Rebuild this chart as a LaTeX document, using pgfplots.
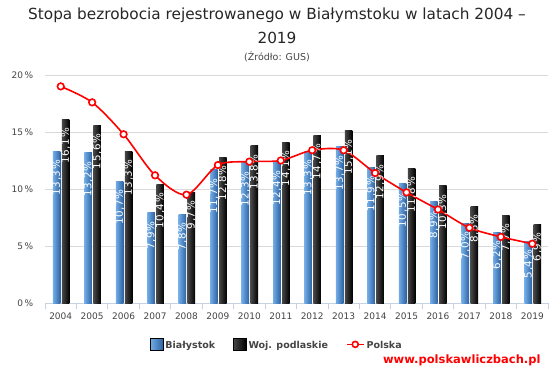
\documentclass[border=0pt]{standalone}
\usepackage{pgfplots}
\usepackage{pgfplotstable}
\pgfplotsset{compat=1.18}
\usepackage{fontspec}
\usepackage{pdfrender}
\setmainfont{DejaVu Sans}
\newfontfamily\labfont[LetterSpace=6]{DejaVu Sans}
\definecolor{blueL}{HTML}{72ACE6}
\definecolor{blueD}{HTML}{2C62A0}
\definecolor{gridc}{HTML}{D9D9D9}
\definecolor{axc}{HTML}{C5D3E2}
\definecolor{txt}{HTML}{444444}
\pgfplotstableread{
x bial woj pol
0 13.3 16.1 19.0
1 13.2 15.6 17.6
2 10.7 13.3 14.8
3 7.9 10.4 11.2
4 7.8 9.7 9.5
5 11.7 12.8 12.1
6 12.3 13.8 12.4
7 12.4 14.1 12.5
8 13.3 14.7 13.4
9 13.7 15.1 13.4
10 11.9 12.9 11.4
11 10.5 11.8 9.7
12 8.9 10.3 8.2
13 7.0 8.5 6.6
14 6.2 7.7 5.8
15 5.4 6.9 5.2
}\data
\newcommand{\lab}[1]{\textpdfrender{TextRenderingMode=FillStroke, LineWidth=0.5, StrokeColor=black}{#1}}
\begin{document}
\begin{tikzpicture}
\useasboundingbox (0pt,0pt) rectangle (554pt,370pt);
\node[font=\fontsize{15.3}{18}\selectfont, text=black!85] at (277pt,355pt) {Stopa bezrobocia rejestrowanego w Białymstoku w latach 2004 –};
\node[font=\fontsize{15.3}{18}\selectfont, text=black!85] at (277pt,332pt) {2019};
\node[font=\fontsize{9.5}{11}\selectfont, text=txt] at (277pt,313pt) {(Źródło: GUS)};
\begin{axis}[
  at={(45pt,67pt)}, anchor=south west,
  scale only axis, width=503pt, height=228pt,
  xmin=-0.5, xmax=15.5, ymin=0, ymax=20,
  axis line style={draw=none},
  axis x line*=bottom,
  x axis line style={draw=axc, line width=0.8pt},
  xtick={0,...,15},
  xticklabels={2004,2005,2006,2007,2008,2009,2010,2011,2012,2013,2014,2015,2016,2017,2018,2019},
  major x tick style={draw=none},
  minor xtick={-0.5,0.5,...,15.5},
  minor x tick style={draw=axc, line width=0.8pt},
  minor tick length=6pt,
  tick align=outside,
  ytick={0,5,10,15,20},
  ymajorgrids, grid style={draw=gridc, line width=0.8pt},
  major y tick style={draw=none},
  yticklabel={\pgfmathprintnumber{\tick}\,\%},
  /pgf/number format/assume math mode=true,
  ticklabel style={font=\fontsize{9}{10}\selectfont, text=txt},
  yticklabel style={xshift=-4pt},
  xticklabel style={yshift=-2pt},
  ybar, bar width=7.5pt,
  nodes near coords={\lab{\pgfmathprintnumber[fixed,fixed zerofill,precision=1,use comma]{\pgfplotspointmeta}\%}},
  every node near coord/.append style={rotate=90, anchor=east, text=white, font=\labfont\fontsize{10.3}{11}\selectfont, xshift=-8pt, inner sep=0.5pt},
  legend style={at={(0.461,-0.184)}, anchor=center, legend columns=3, draw=none, fill=none,
    font=\bfseries\fontsize{9.5}{11}\selectfont, text=txt,
    /tikz/every even column/.append style={column sep=16pt}},
  clip=false,
]
\pgfplotsinvokeforeach{0,...,15}{
\addplot[forget plot, bar shift=-4pt, draw=none, left color=blueL, right color=blueD, restrict x to domain=#1:#1]
  table[x=x, y=bial] {\data};
\addplot[forget plot, bar shift=5pt, draw=none, left color=black!72, right color=black, restrict x to domain=#1:#1]
  table[x=x, y=woj] {\data};
}
\addplot[forget plot, sharp plot, nodes near coords={}, red, line width=1.6pt, smooth, tension=0.5, mark=*, mark size=3.3pt, mark options={fill=white, draw=red, line width=1.6pt}]
  table[x=x, y=pol] {\data};
\addlegendimage{legend image code/.code={\shade[left color=blueL, right color=blueD] (0pt,-5pt) rectangle (13pt,7pt);}}
\addlegendentry{Białystok}
\addlegendimage{legend image code/.code={\shade[left color=black!72, right color=black] (0pt,-5pt) rectangle (13pt,7pt);}}
\addlegendentry{Woj. podlaskie}
\addlegendimage{legend image code/.code={\draw[red, line width=1.6pt] (0pt,1pt) -- (17pt,1pt); \draw[red, line width=1.6pt, fill=white] (8.5pt,1pt) circle (3pt);}}
\addlegendentry{Polska}
\end{axis}
\node[anchor=east, text=red, font=\bfseries\fontsize{11.5}{13}\selectfont] at (544pt,10pt) {www.polskawliczbach.pl};
\end{tikzpicture}
\end{document}
